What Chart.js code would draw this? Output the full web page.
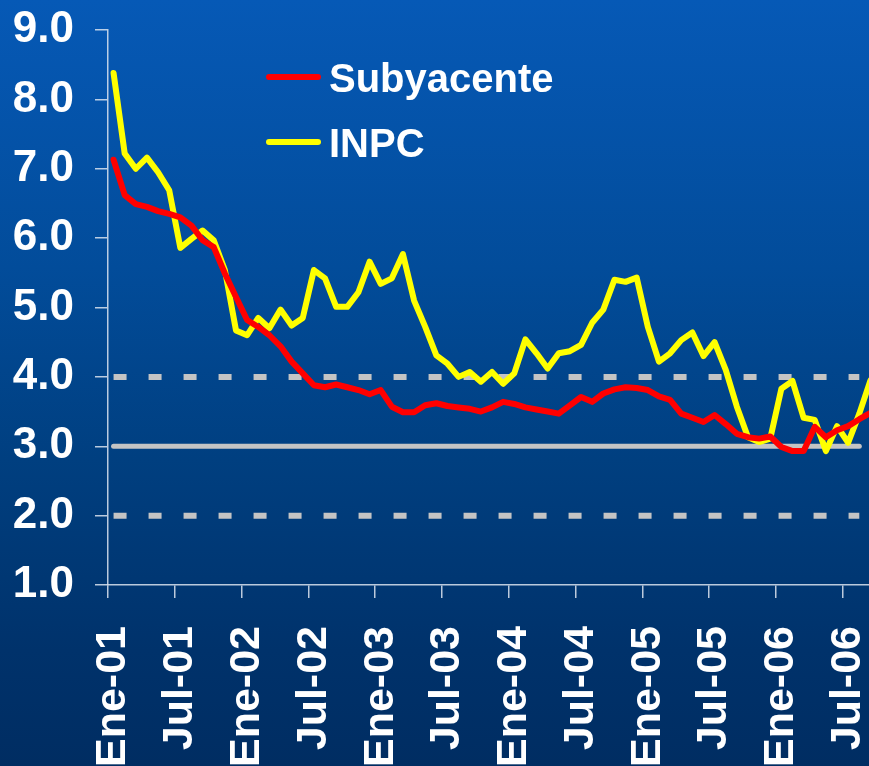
<!DOCTYPE html>
<html>
<head>
<meta charset="utf-8">
<script src="https://cdn.jsdelivr.net/npm/chart.js@4.4.1/dist/chart.umd.min.js"></script>
<style>
html, body { margin: 0; padding: 0; width: 869px; height: 766px; overflow: hidden; }
body { background: linear-gradient(to bottom, #0659b6 0%, #024c9a 35%, #003f80 60%, #00326b 85%, #002d62 100%); }
#wrap { position: absolute; left: 0; top: 0; width: 880px; height: 766px; }
</style>
</head>
<body>
<div id="wrap"><canvas id="c" width="880" height="766"></canvas></div>
<script>
// ---- data ----
const monthNames = ['Ene','Feb','Mar','Abr','May','Jun','Jul','Ago','Sep','Oct','Nov','Dic'];
const years = ['01','02','03','04','05','06'];
const lastMonthCount = 9; // Ene-06 .. Sep-06
const months = [];
years.forEach((y, yi) => {
  const n = yi === years.length - 1 ? lastMonthCount : 12;
  for (let m = 0; m < n; m++) months.push(monthNames[m] + '-' + y);
});

const tickLabels = ['Ene-01','Jul-01','Ene-02','Jul-02','Ene-03','Jul-03','Ene-04','Jul-04','Ene-05','Jul-05','Ene-06','Jul-06'];

const subyacente = [
  7.13, 6.62, 6.49, 6.45, 6.39, 6.35, 6.30, 6.18, 5.97, 5.87, 5.49, 5.15,
  4.82, 4.72, 4.60, 4.44, 4.22, 4.05, 3.88, 3.85, 3.89, 3.85, 3.81, 3.75,
  3.81, 3.57, 3.49, 3.49, 3.59, 3.62, 3.58, 3.56, 3.54, 3.50, 3.56, 3.64,
  3.61, 3.56, 3.53, 3.50, 3.47, 3.59, 3.71, 3.64, 3.76, 3.82, 3.85, 3.84,
  3.81, 3.72, 3.67, 3.47, 3.41, 3.35, 3.45, 3.32, 3.18, 3.13, 3.11, 3.14,
  2.99, 2.93, 2.93, 3.28, 3.13, 3.23, 3.29, 3.39, 3.48
];

const inpc = [
  8.38, 7.22, 7.00, 7.16, 6.95, 6.69, 5.86, 5.99, 6.11, 5.97, 5.54, 4.67,
  4.60, 4.85, 4.70, 4.97, 4.74, 4.85, 5.54, 5.42, 5.01, 5.01, 5.22, 5.66,
  5.34, 5.42, 5.77, 5.10, 4.72, 4.31, 4.19, 4.00, 4.07, 3.93, 4.07, 3.90,
  4.05, 4.54, 4.34, 4.12, 4.34, 4.37, 4.46, 4.78, 4.97, 5.40, 5.37, 5.43,
  4.72, 4.22, 4.34, 4.53, 4.64, 4.30, 4.50, 4.10, 3.57, 3.13, 3.06, 3.11,
  3.83, 3.94, 3.41, 3.38, 2.93, 3.29, 3.05, 3.47, 3.95
];

const targetLevels = [2, 3, 4];
const targetCenter = 3;
const targetLastMonth = 'Ago-06';

// ---- plugins ----
const targetPlugin = {
  id: 'targetLines',
  beforeDatasetsDraw(chart) {
    const { ctx, scales: { x, y } } = chart;
    const x0 = x.getPixelForValue(0);
    const x1 = x.getPixelForValue(months.indexOf(targetLastMonth));
    ctx.save();
    ctx.strokeStyle = '#c4c4c4';
    targetLevels.forEach(v => {
      const py = y.getPixelForValue(v);
      ctx.beginPath();
      if (v === targetCenter) { ctx.setLineDash([]); ctx.lineCap = 'round'; ctx.lineWidth = 5; }
      else { ctx.setLineDash([13, 22]); ctx.lineCap = 'butt'; ctx.lineWidth = 6; }
      ctx.moveTo(x0, py);
      ctx.lineTo(x1, py);
      ctx.stroke();
    });
    ctx.restore();
  }
};

const legendPlugin = {
  id: 'innerLegend',
  afterDraw(chart) {
    const { ctx, chartArea } = chart;
    ctx.save();
    ctx.font = 'bold 40px "Liberation Sans", Arial, sans-serif';
    ctx.textBaseline = 'middle';
    ctx.textAlign = 'left';
    chart.data.datasets.forEach((ds, i) => {
      const cy = chartArea.top + 47 + i * 65;
      const lx = chartArea.left + 161;
      ctx.strokeStyle = ds.borderColor;
      ctx.lineWidth = 6;
      ctx.lineCap = 'round';
      ctx.beginPath();
      ctx.moveTo(lx, cy);
      ctx.lineTo(lx + 49, cy);
      ctx.stroke();
      ctx.fillStyle = '#ffffff';
      ctx.fillText(ds.label, lx + 60, cy + 4);
    });
    ctx.restore();
  }
};

const axisColor = 'rgba(220,228,240,0.85)';
const tickFont = { family: '"Liberation Sans", Arial, sans-serif', weight: 'bold', size: 43 };

new Chart(document.getElementById('c'), {
  type: 'line',
  data: {
    labels: months,
    datasets: [
      { label: 'Subyacente', data: subyacente, borderColor: '#ff0000', borderWidth: 6, pointRadius: 0, tension: 0, borderJoinStyle: 'round', borderCapStyle: 'round' },
      { label: 'INPC', data: inpc, borderColor: '#ffff00', borderWidth: 6, pointRadius: 0, tension: 0, borderJoinStyle: 'round', borderCapStyle: 'round' }
    ]
  },
  options: {
    responsive: false,
    animation: false,
    events: [],
    layout: { padding: { top: 30, right: 4, left: 0, bottom: 0 } },
    plugins: { legend: { display: false }, tooltip: { enabled: false } },
    scales: {
      x: {
        type: 'category',
        offset: true,
        grid: {
          offset: true,
          drawOnChartArea: false,
          drawTicks: true,
          tickLength: 13,
          lineWidth: 1.5,
          color: c => (c.index % 6 === 0 && c.index < months.length) ? axisColor : 'rgba(0,0,0,0)'
        },
        border: { display: true, color: axisColor, width: 1.5 },
        ticks: {
          autoSkip: false,
          minRotation: 90,
          maxRotation: 90,
          padding: 28,
          color: '#ffffff',
          font: tickFont,
          callback: function (v, i) { return tickLabels.includes(months[i]) ? months[i] : ''; }
        },
        afterFit(s) { s.height = 181; s.paddingLeft = 0; s.paddingRight = 0; }
      },
      y: {
        min: 1,
        max: 9,
        grid: { drawOnChartArea: false, tickLength: 13, lineWidth: 1.5, color: axisColor },
        border: { display: true, color: axisColor, width: 1.5 },
        ticks: {
          stepSize: 1,
          padding: 21,
          color: '#ffffff',
          font: { family: '"Liberation Sans", Arial, sans-serif', weight: 'bold', size: 44 },
          callback: v => Number(v).toFixed(1)
        },
        afterFit(s) { s.width = 108; s.paddingTop = 0; s.paddingBottom = 0; }
      }
    }
  },
  plugins: [targetPlugin, legendPlugin]
});
</script>
</body>
</html>
